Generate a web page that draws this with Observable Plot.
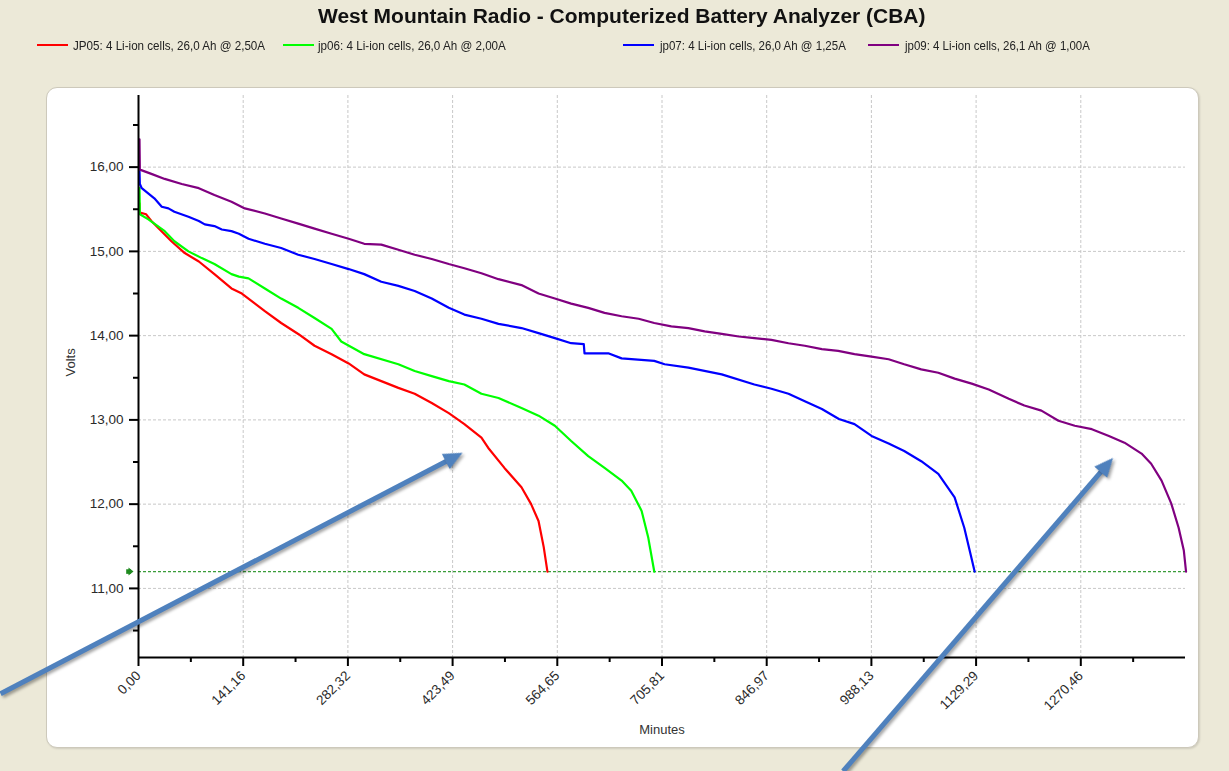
<!DOCTYPE html>
<html>
<head>
<meta charset="utf-8">
<script src="https://cdn.jsdelivr.net/npm/d3@7"></script>
<script src="https://cdn.jsdelivr.net/npm/@observablehq/plot@0.6"></script>
<style>
  html, body { margin: 0; padding: 0; }
  body {
    width: 1229px; height: 771px; position: relative; overflow: hidden;
    background: #ECE9D8;
    font-family: "Liberation Sans", Arial, sans-serif;
  }
  #title {
    position: absolute; left: 318px; top: 5px; white-space: nowrap;
    font-size: 19.5px; font-weight: bold; color: #111; transform-origin: 0 0;
  }
  .legend-item { position: absolute; top: 38px; height: 16px; white-space: nowrap; }
  .legend-item .swatch { position: absolute; left: 0; top: 6px; width: 31px; height: 2px; }
  .legend-item .label {
    position: absolute; top: 0; font-size: 13.5px; color: #222; transform-origin: 0 0;
  }
  #panel {
    position: absolute; left: 46px; top: 87px; width: 1153px; height: 661px;
    box-sizing: border-box; background: #fff; border: 1px solid #cdc9bb;
    border-radius: 11px; box-shadow: 1px 1px 2px rgba(0,0,0,0.12);
  }
  #chart { position: absolute; left: 0; top: 60px; }
</style>
</head>
<body>
<div id="title">West Mountain Radio - Computerized Battery Analyzer (CBA)</div>
<div id="legend"></div>
<div id="panel"></div>
<div id="chart"></div>
<script>
// Discharge runs: [minutes, volts]
const jp05 = [
  [0, 15.57], [0.5, 15.46], [9, 15.44], [16, 15.36], [43, 15.12], [61, 14.98], [80, 14.88],
  [101, 14.73], [124, 14.56], [138, 14.50], [169, 14.29], [191, 14.15], [214, 14.02],
  [236, 13.88], [259, 13.78], [282, 13.67], [303, 13.54], [326, 13.46], [349, 13.38],
  [371, 13.31], [394, 13.20], [417, 13.08], [438, 12.95], [461, 12.79], [470, 12.67],
  [492, 12.43], [515, 12.20], [528, 12.00], [538, 11.80], [545, 11.49], [550, 11.20]
];
const jp06 = [
  [0, 15.75], [0.5, 15.44], [12, 15.38], [34, 15.24], [47, 15.12], [66, 15.00], [84, 14.92],
  [101, 14.85], [124, 14.73], [134, 14.70], [147, 14.68], [169, 14.56], [191, 14.44],
  [214, 14.33], [236, 14.21], [259, 14.08], [272, 13.93], [303, 13.78], [349, 13.66],
  [371, 13.58], [394, 13.52], [417, 13.46], [438, 13.42], [461, 13.31], [484, 13.26],
  [515, 13.14], [538, 13.05], [560, 12.93], [582, 12.75], [605, 12.57], [627, 12.43],
  [650, 12.28], [663, 12.16], [677, 11.92], [686, 11.60], [694, 11.20]
];
const jp07 = [
  [0, 15.95], [0.5, 15.80], [3, 15.75], [20, 15.63], [30, 15.53], [39, 15.51], [47, 15.47],
  [66, 15.41], [80, 15.36], [88, 15.32], [101, 15.30], [111, 15.26], [124, 15.24],
  [134, 15.21], [147, 15.15], [169, 15.09], [191, 15.04], [214, 14.96], [236, 14.91],
  [259, 14.85], [282, 14.79], [303, 14.73], [326, 14.64], [349, 14.59], [371, 14.53],
  [394, 14.44], [417, 14.33], [438, 14.25], [461, 14.20], [484, 14.14], [515, 14.09],
  [538, 14.03], [560, 13.97], [582, 13.91], [599, 13.90], [600, 13.79], [632, 13.79],
  [650, 13.73], [694, 13.70], [708, 13.66], [740, 13.62], [785, 13.54], [829, 13.42],
  [852, 13.37], [875, 13.31], [897, 13.22], [920, 13.13], [943, 13.01], [964, 12.95],
  [987, 12.81], [1010, 12.72], [1031, 12.63], [1054, 12.51], [1077, 12.36], [1099, 12.08],
  [1112, 11.72], [1126, 11.20]
];
const jp09 = [
  [0, 16.33], [0.5, 15.97], [16, 15.92], [34, 15.86], [57, 15.80], [80, 15.75], [101, 15.67],
  [124, 15.59], [142, 15.51], [169, 15.45], [191, 15.39], [214, 15.33], [236, 15.27],
  [259, 15.21], [282, 15.15], [303, 15.09], [326, 15.08], [349, 15.02], [371, 14.96],
  [394, 14.91], [417, 14.85], [438, 14.80], [461, 14.74], [484, 14.67], [515, 14.60],
  [538, 14.50], [560, 14.44], [582, 14.38], [605, 14.33], [627, 14.27], [650, 14.23],
  [673, 14.20], [694, 14.15], [717, 14.11], [740, 14.09], [762, 14.05], [785, 14.02],
  [808, 13.99], [829, 13.97], [852, 13.95], [875, 13.91], [897, 13.88], [920, 13.84],
  [942, 13.82], [964, 13.78], [987, 13.75], [1010, 13.72], [1031, 13.66], [1054, 13.60],
  [1077, 13.56], [1099, 13.49], [1122, 13.43], [1145, 13.36], [1172, 13.25], [1193, 13.17],
  [1216, 13.11], [1239, 12.99], [1261, 12.93], [1284, 12.89], [1307, 12.81], [1328, 12.73],
  [1351, 12.60], [1364, 12.48], [1378, 12.28], [1391, 12.01], [1401, 11.72], [1408, 11.45],
  [1411, 11.20]
];

const seriesNames = [
  "JP05: 4 Li-ion cells, 26,0 Ah @ 2,50A",
  "jp06: 4 Li-ion cells, 26,0 Ah @ 2,00A",
  "jp07: 4 Li-ion cells, 26,0 Ah @ 1,25A",
  "jp09: 4 Li-ion cells, 26,1 Ah @ 1,00A"
];
const seriesColors = ["#ff0000", "#00ff00", "#0000ff", "#800080"];
const seriesData = [jp05, jp06, jp07, jp09];

// Cut-off voltage of the analyzer
const cutoffVolts = 11.2;

// Axis ticks
const xTickValues = [0, 141.16, 282.32, 423.49, 564.65, 705.81, 846.97, 988.13, 1129.29, 1270.46];
const xTickLabels = ["0,00", "141,16", "282,32", "423,49", "564,65", "705,81", "846,97", "988,13", "1129,29", "1270,46"];
const yTickValues = [11, 12, 13, 14, 15, 16];
const yTickLabels = ["11,00", "12,00", "13,00", "14,00", "15,00", "16,00"];
const xDomain = [0, 1411.62];
const yDomain = [10.18, 16.85];

// Call-out arrows (tail -> tip), in minutes / volts
const callouts = [
  {x1: -186, y1: 9.75, x2: 437, y2: 12.61},
  {x1: 950, y1: 8.83, x2: 1314, y2: 12.55}
];

// Legend layout: left edge of each swatch and label, and the label widths
const legendSwatchX = [37, 283, 623, 868];
const legendLabelX = [73, 318, 660, 905];
const legendLabelW = [192, 188, 186, 185];

const legend = document.getElementById("legend");
seriesNames.forEach((name, i) => {
  const item = document.createElement("div");
  item.className = "legend-item";
  item.style.left = legendSwatchX[i] + "px";
  item.innerHTML = `<div class="swatch" style="background:${seriesColors[i]}"></div>` +
    `<div class="label" style="left:${legendLabelX[i] - legendSwatchX[i]}px">${name}</div>`;
  legend.appendChild(item);
  const label = item.querySelector(".label");
  label.style.transform = `scaleX(${legendLabelW[i] / label.offsetWidth})`;
});
// Title is set in a wide bold face spanning 607px
const title = document.getElementById("title");
title.style.transform = `scaleX(${607 / title.offsetWidth})`;

const W = 1229, H = 711;
const M = {top: 35, right: 44, bottom: 114, left: 138};

const xMinor = xTickValues.map(v => v + 70.58);
const yMinor = [10.5, 11.5, 12.5, 13.5, 14.5, 15.5, 16.5];
const xLabel = new Map(xTickValues.map((v, i) => [v, xTickLabels[i]]));
const yLabel = new Map(yTickValues.map((v, i) => [v, yTickLabels[i]]));

// Pixel scales, used to orient the call-out arrowheads
const xs = Plot.scale({x: {domain: xDomain, range: [M.left, W - M.right]}});
const ys = Plot.scale({y: {domain: yDomain, range: [H - M.bottom, M.top]}});
const heads = callouts.map(c => {
  const dx = xs.apply(c.x2) - xs.apply(c.x1);
  const dy = ys.apply(c.y2) - ys.apply(c.y1);
  return {x: c.x2, y: c.y2, angle: Math.atan2(dx, -dy) * 180 / Math.PI};
});
// Filled arrowhead pointing up, tip at the origin
const arrowHead = {draw(ctx) { ctx.moveTo(0, 0); ctx.lineTo(-8.5, 19); ctx.lineTo(8.5, 19); ctx.closePath(); }};
const markerHead = {draw(ctx) { ctx.moveTo(0, 0); ctx.lineTo(-4, 5); ctx.lineTo(4, 5); ctx.closePath(); }};

const chart = Plot.plot({
  width: W, height: H,
  marginTop: M.top, marginRight: M.right, marginBottom: M.bottom, marginLeft: M.left,
  style: {background: "transparent", overflow: "visible", fontFamily: "'Liberation Sans', Arial, sans-serif", color: "#2a2a2a"},
  x: {domain: xDomain},
  y: {domain: yDomain},
  marks: [
    Plot.gridY(yTickValues, {stroke: "#c8c8c8", strokeOpacity: 1, strokeDasharray: "3,2"}),
    Plot.gridX(xTickValues.slice(1), {stroke: "#c8c8c8", strokeOpacity: 1, strokeDasharray: "3,2"}),
    Plot.ruleY([cutoffVolts], {stroke: "#3a9d3a", strokeWidth: 1.3, strokeDasharray: "3,2"}),
    ...seriesData.map((d, i) => Plot.line(d, {x: "0", y: "1", dx: 1, stroke: seriesColors[i], strokeWidth: 2.2, strokeLinejoin: "round"})),
    // cut-off marker left of the axis
    Plot.dot([cutoffVolts], {x: xDomain[0], y: d => d, dx: -5, symbol: markerHead, rotate: 90, fill: "#1f8a1f", stroke: "none"}),
    Plot.dot([cutoffVolts], {x: xDomain[0], y: d => d, dx: -10, symbol: "square", r: 2.6, fill: "#1f8a1f", stroke: "none"}),
    // axes
    Plot.axisY(yMinor, {tickSize: 5, tickFormat: () => "", strokeWidth: 2, stroke: "#000"}),
    Plot.axisY(yTickValues, {tickSize: 9, tickPadding: 6, strokeWidth: 2, stroke: "#000", fontSize: 13.5, tickFormat: d => yLabel.get(d), label: null}),
    Plot.axisX(xMinor, {tickSize: 5, tickFormat: () => "", strokeWidth: 2, stroke: "#000"}),
    Plot.axisX(xTickValues, {tickSize: 9, tickPadding: 7, tickRotate: -45, strokeWidth: 2, stroke: "#000", fontSize: 13.5, tickFormat: d => xLabel.get(d), label: null}),
    Plot.ruleX([xDomain[0]], {stroke: "#000", strokeWidth: 2}),
    Plot.ruleY([yDomain[0]], {stroke: "#000", strokeWidth: 2}),
    Plot.text(["Volts"], {frameAnchor: "left", dx: -68, rotate: -90, fontSize: 13, fill: "#333"}),
    Plot.text(["Minutes"], {frameAnchor: "bottom", dy: 76, fontSize: 13, fill: "#333"}),
    // call-out arrows
    Plot.arrow(callouts, {x1: "x1", y1: "y1", x2: "x2", y2: "y2", stroke: "#4f81bd", strokeWidth: 5, headLength: 0, insetEnd: 14, strokeLinecap: "butt", ariaDescription: "callout"}),
    Plot.dot(heads, {x: "x", y: "y", symbol: arrowHead, rotate: "angle", fill: "#4f81bd", stroke: "none", ariaDescription: "callout"})
  ]
});
d3.select(chart).selectAll('g[aria-description="callout"]').style("filter", "drop-shadow(2px 2px 1.5px rgba(0,0,0,0.35))");
document.getElementById("chart").appendChild(chart);
</script>
</body>
</html>
